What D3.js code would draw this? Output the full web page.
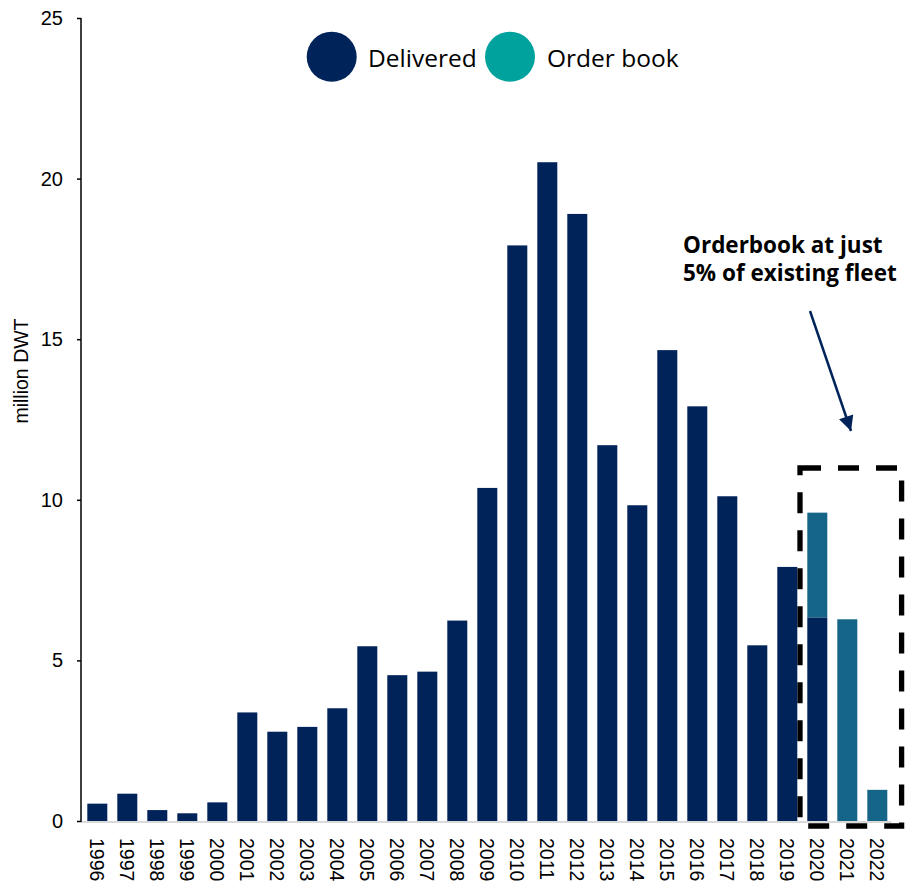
<!DOCTYPE html>
<html>
<head>
<meta charset="utf-8">
<script src="https://cdn.jsdelivr.net/npm/d3@7"></script>
<style>
  html, body { margin: 0; padding: 0; background: #fff; }
  svg { display: block; }
</style>
</head>
<body>
<svg id="chart" width="905" height="883"></svg>
<script>
// Annual deliveries and order book, million DWT
const years = ["1996","1997","1998","1999","2000","2001","2002","2003","2004","2005",
  "2006","2007","2008","2009","2010","2011","2012","2013","2014","2015",
  "2016","2017","2018","2019","2020","2021","2022"];
const delivered = [0.54, 0.85, 0.34, 0.24, 0.58, 3.38, 2.78, 2.93, 3.51, 5.44,
  4.54, 4.65, 6.24, 10.37, 17.92, 20.51, 18.90, 11.70, 9.83, 14.66,
  12.91, 10.11, 5.47, 7.91, 6.34, 0, 0];
const orderBook = [0, 0, 0, 0, 0, 0, 0, 0, 0, 0,
  0, 0, 0, 0, 0, 0, 0, 0, 0, 0,
  0, 0, 0, 0, 3.26, 6.28, 0.97];
const yTicks = [0, 5, 10, 15, 20, 25];
const seriesNames = ["Delivered", "Order book"];
const annotationLines = ["Orderbook at just", "5% of existing fleet"];
const boxedYears = ["2020", "2022"];

const navy = "#00235a";
const barTeal = "#146588";
const legendTeal = "#00a29d";

const svg = d3.select("#chart");

const x = d3.scaleBand()
  .domain(years)
  .range([82.3, 892.3])
  .paddingInner(1 / 3)
  .paddingOuter(1 / 6);

const y = d3.scaleLinear()
  .domain([0, 25])
  .range([821, 18]);

const rows = years.map((yr, i) => ({ year: yr, delivered: delivered[i], orderBook: orderBook[i] }));
const stacked = d3.stack().keys(["delivered", "orderBook"])(rows);
const fills = { delivered: navy, orderBook: barTeal };

// bars
svg.append("g")
  .selectAll("g")
  .data(stacked)
  .join("g")
  .attr("fill", d => fills[d.key])
  .selectAll("rect")
  .data(d => d.filter(p => p[1] > p[0]))
  .join("rect")
  .attr("x", d => x(d.data.year))
  .attr("width", x.bandwidth())
  .attr("y", d => y(d[1]))
  .attr("height", d => y(d[0]) - y(d[1]));

// baseline
svg.append("line")
  .attr("x1", 81).attr("x2", x.range()[1] - 1)
  .attr("y1", y(0) + 1).attr("y2", y(0) + 1)
  .attr("stroke", "#d9d9d9")
  .attr("stroke-width", 2);

// y axis
const yAxis = svg.append("g")
  .attr("transform", "translate(81,0)")
  .call(d3.axisLeft(y).tickValues(yTicks).tickSize(4).tickPadding(14).tickFormat(d3.format("d")));
yAxis.select(".domain").attr("stroke", "#000").attr("stroke-width", 1.5)
  .attr("d", `M0,${y(25)}V${y(0) + 1}`);
yAxis.selectAll(".tick line").attr("stroke", "#000").attr("stroke-width", 1.5);
yAxis.selectAll(".tick text")
  .attr("fill", "#000")
  .style("font-family", "'Liberation Sans', Arial, sans-serif")
  .style("font-size", "20px");

// x labels, rotated
svg.append("g")
  .selectAll("text")
  .data(years)
  .join("text")
  .attr("transform", d => `translate(${x(d) + x.bandwidth() / 2},838) rotate(90)`)
  .attr("dominant-baseline", "central")
  .attr("text-anchor", "start")
  .style("font-family", "'Liberation Sans', Arial, sans-serif")
  .style("font-size", "19.5px")
  .attr("fill", "#000")
  .text(d => d);

// y axis title
svg.append("text")
  .attr("transform", "translate(27.5,371) rotate(-90)")
  .attr("text-anchor", "middle")
  .style("font-family", "'Liberation Sans', Arial, sans-serif")
  .style("font-size", "19.5px")
  .attr("fill", "#000")
  .text("million DWT");

// legend
const legendItems = [
  { name: seriesNames[0], color: navy, cx: 331.7, tx: 368 },
  { name: seriesNames[1], color: legendTeal, cx: 510, tx: 547 }
];
const legend = svg.append("g");
legend.selectAll("circle")
  .data(legendItems)
  .join("circle")
  .attr("cx", d => d.cx)
  .attr("cy", 56.7)
  .attr("r", 25)
  .attr("fill", d => d.color);
legend.selectAll("text")
  .data(legendItems)
  .join("text")
  .attr("x", d => d.tx)
  .attr("y", 66.5)
  .style("font-family", "'Open Sans', 'Noto Sans', sans-serif")
  .style("font-size", "24.5px")
  .attr("fill", "#000")
  .text(d => d.name);

// annotation
svg.append("g")
  .selectAll("text")
  .data(annotationLines)
  .join("text")
  .attr("x", 683)
  .attr("y", (d, i) => 253 + i * 28)
  .style("font-family", "'Open Sans', 'Noto Sans', sans-serif")
  .style("font-weight", "bold")
  .style("font-size", "22.5px")
  .attr("fill", "#000")
  .text(d => d);

svg.append("defs").append("marker")
  .attr("id", "arrowhead")
  .attr("viewBox", "0 0 10 10")
  .attr("refX", 10).attr("refY", 5)
  .attr("markerUnits", "userSpaceOnUse")
  .attr("markerWidth", 16).attr("markerHeight", 15)
  .attr("orient", "auto")
  .append("path")
  .attr("d", "M0,0L10,5L0,10Z")
  .attr("fill", navy);

svg.append("line")
  .attr("x1", 810).attr("y1", 311)
  .attr("x2", 851).attr("y2", 431)
  .attr("stroke", navy)
  .attr("stroke-width", 2.5)
  .attr("marker-end", "url(#arrowhead)");

// dashed highlight box round the forward years
const bx0 = x(boxedYears[0]) - 7.3;
const bx1 = x(boxedYears[1]) + x.bandwidth() + 14.3;
svg.append("rect")
  .attr("x", bx0)
  .attr("y", 468)
  .attr("width", bx1 - bx0)
  .attr("height", 826 - 468)
  .attr("fill", "none")
  .attr("stroke", "#000")
  .attr("stroke-width", 5.3)
  .attr("stroke-dasharray", "21,17");
</script>
</body>
</html>
